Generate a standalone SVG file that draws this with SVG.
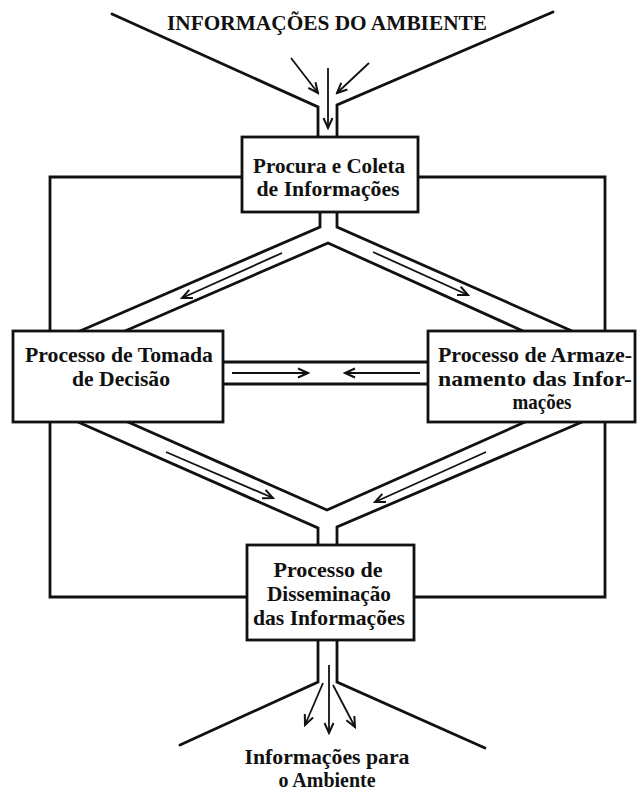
<svg xmlns="http://www.w3.org/2000/svg" width="637" height="790" viewBox="0 0 637 790">
<style>
  .ln { fill: none; stroke: #111; stroke-width: 2.8; stroke-linejoin: miter; stroke-linecap: round; }
  .box { fill: #fff; stroke: #111; stroke-width: 2.8; }
  .arr { fill: none; stroke: #111; stroke-width: 1.8; marker-end: url(#ah); }
  text { font-family: "Liberation Serif", "Times New Roman", serif; font-weight: bold; font-size: 21px; fill: #111; text-anchor: middle; }
  .sm { font-size: 20px; }
</style>
<defs>
  <marker id="ah" markerUnits="userSpaceOnUse" markerWidth="14" markerHeight="12" viewBox="0 0 14 12" refX="12" refY="6" orient="auto">
    <path d="M2,1.5 L12,6 L2,10.5" fill="none" stroke="#111" stroke-width="2"/>
  </marker>
</defs>
<rect width="637" height="790" fill="#fff"/>
<g id="connectors">
  <polyline class="ln" points="112,14 318,107 318,137"/>
  <polyline class="ln" points="553,12 337,105 337,137"/>
  <polyline class="ln" points="242,177 50,177 50,331"/>
  <polyline class="ln" points="418,177 605,177 605,331"/>
  <polyline class="ln" points="320,212 320,227 80,331"/>
  <polyline class="ln" points="337,212 337,227 572,331"/>
  <polyline class="ln" points="125,331 328,243 523,331"/>
  <line class="ln" x1="223" y1="362" x2="428" y2="362"/>
  <line class="ln" x1="223" y1="384" x2="428" y2="384"/>
  <polyline class="ln" points="78,422 318,528 318,545"/>
  <polyline class="ln" points="582,422 337,527 337,545"/>
  <polyline class="ln" points="128,422 327,510 525,422"/>
  <polyline class="ln" points="50,422 50,597 247,597"/>
  <polyline class="ln" points="605,422 605,597 414,597"/>
  <polyline class="ln" points="318,640 318,682 180,745"/>
  <polyline class="ln" points="337,640 337,682 485,748"/>
  <line class="arr" x1="291" y1="58" x2="318" y2="93"/>
  <line class="arr" x1="328" y1="68" x2="328" y2="128"/>
  <line class="arr" x1="369" y1="63" x2="337" y2="93"/>
  <line class="arr" x1="282" y1="253" x2="182" y2="298"/>
  <line class="arr" x1="373" y1="252" x2="468" y2="295"/>
  <line class="arr" x1="232" y1="373" x2="308" y2="373"/>
  <line class="arr" x1="420" y1="373" x2="345" y2="373"/>
  <line class="arr" x1="166" y1="452" x2="273" y2="498"/>
  <line class="arr" x1="486" y1="452" x2="375" y2="502"/>
  <line class="arr" x1="329" y1="665" x2="329" y2="733"/>
  <line class="arr" x1="323" y1="683" x2="305" y2="725"/>
  <line class="arr" x1="333" y1="685" x2="355" y2="727"/>
</g>
<g id="title">
  <text x="327" y="30" textLength="320" lengthAdjust="spacingAndGlyphs">INFORMAÇÕES DO AMBIENTE</text>
</g>
<g id="node-procura">
  <rect class="box" x="242" y="137" width="176" height="75"/>
  <text x="329" y="173" textLength="152" lengthAdjust="spacingAndGlyphs">Procura e Coleta</text>
  <text x="328" y="196" textLength="143" lengthAdjust="spacingAndGlyphs">de Informações</text>
</g>
<g id="node-decisao">
  <rect class="box" x="13" y="331" width="210" height="91"/>
  <text x="119" y="362" textLength="188" lengthAdjust="spacingAndGlyphs">Processo de Tomada</text>
  <text x="121" y="386" textLength="98" lengthAdjust="spacingAndGlyphs">de Decisão</text>
</g>
<g id="node-armazenamento">
  <rect class="box" x="428" y="331" width="207" height="91"/>
  <text x="535" y="362" textLength="194" lengthAdjust="spacingAndGlyphs">Processo de Armaze-</text>
  <text x="535" y="386" textLength="194" lengthAdjust="spacingAndGlyphs">namento das Infor-</text>
  <text x="542" y="409" textLength="59" lengthAdjust="spacingAndGlyphs">mações</text>
</g>
<g id="node-disseminacao">
  <rect class="box" x="247" y="545" width="167" height="95"/>
  <text x="328" y="577" textLength="109" lengthAdjust="spacingAndGlyphs">Processo de</text>
  <text x="329" y="601" textLength="124" lengthAdjust="spacingAndGlyphs">Disseminação</text>
  <text x="329" y="625" textLength="152" lengthAdjust="spacingAndGlyphs">das Informações</text>
</g>
<g id="output-label">
  <text class="sm" x="327" y="764" textLength="165" lengthAdjust="spacingAndGlyphs">Informações para</text>
  <text class="sm" x="327" y="787" textLength="97" lengthAdjust="spacingAndGlyphs">o Ambiente</text>
</g>
</svg>
